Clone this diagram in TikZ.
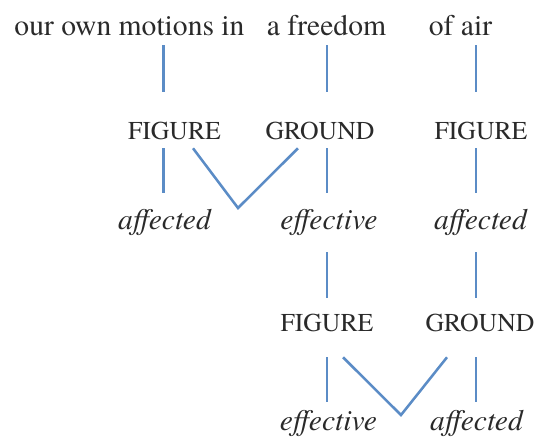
\documentclass[tikz,border=0pt]{standalone}
\usepackage{fontspec}
\setmainfont{texgyretermes}[Extension=.otf, UprightFont=*-regular, ItalicFont=*-italic, BoldFont=*-bold, BoldItalicFont=*-bolditalic]
\definecolor{linkblue}{HTML}{5B8CC6}
\definecolor{ink}{HTML}{2A2A2A}
\tikzset{
  word/.style={inner sep=0pt, anchor=base, text=ink, font=\fontsize{22.2}{26}\selectfont},
  itword/.style={word, font=\fontsize{22.2}{26}\selectfont\itshape},
  role/.style={inner sep=0pt, anchor=base, text=ink, font=\fontsize{19.3}{23}\selectfont},
  link/.style={draw=linkblue, line width=1.9pt}
}
\begin{document}
\begin{tikzpicture}[x=0.75pt, y=-0.75pt]
\useasboundingbox (0,0) rectangle (538,440);
% columns
\coordinate (k1) at (163.5,0);
\coordinate (k2) at (327,0);
\coordinate (k3) at (476,0);
% row 1
\node[word, text height=16pt, text depth=7.5pt] (w1) at (129.5,35) {our own motions in};
\node[word, text height=16pt, text depth=7.5pt] (w2) at (326.5,35) {a freedom};
\node[word, text height=16pt, text depth=7.5pt] (w3) at (460.5,35) {of air};
% row 2
\node[role, text height=35.25pt, text depth=6.75pt] (f1) at (174.5,139) {FIGURE};
\node[role, text height=35.25pt, text depth=6.75pt] (g1) at (320,139) {GROUND};
\node[role, text height=35.25pt, text depth=6.75pt] (f2) at (481,139) {FIGURE};
% row 3
\node[itword, text height=27pt, text depth=17.25pt] (a1) at (164.5,229) {affected};
\node[itword, text height=27pt, text depth=17.25pt] (e1) at (329,229) {effective};
\node[itword, text height=27pt, text depth=17.25pt] (a2) at (480.5,229) {affected};
% row 4
\node[role, text height=24.75pt, text depth=19.5pt] (f3) at (327,331) {FIGURE};
\node[role, text height=24.75pt, text depth=19.5pt] (g2) at (480,331) {GROUND};
% row 5
\node[itword, text height=21pt, text depth=6pt] (e2) at (328.5,430) {effective};
\node[itword, text height=21pt, text depth=6pt] (a3) at (476.5,430) {affected};
% V vertices
\coordinate (v1l) at (193,0);
\coordinate (v1b) at (238,208);
\coordinate (v1r) at (298,0);
\coordinate (v2l) at (343,0);
\coordinate (v2b) at (401,415);
\coordinate (v2r) at (447,0);
% row 1 -> 2
\draw[link] (w1.south -| k1) -- (f1.north -| k1);
\draw[link] (w2.south -| k2) -- (g1.north -| k2);
\draw[link] (w3.south -| k3) -- (f2.north -| k3);
% row 2 -> 3
\draw[link] (f1.south -| k1) -- (a1.north -| k1);
\draw[link] (g1.south -| k2) -- (e1.north -| k2);
\draw[link] (f2.south -| k3) -- (a2.north -| k3);
\draw[link, line join=miter] (f1.south -| v1l) -- (v1b) -- (g1.south -| v1r);
% row 3 -> 4
\draw[link] (e1.south -| k2) -- (f3.north -| k2);
\draw[link] (a2.south -| k3) -- (g2.north -| k3);
% row 4 -> 5
\draw[link] (f3.south -| k2) -- (e2.north -| k2);
\draw[link] (g2.south -| k3) -- (a3.north -| k3);
\draw[link, line join=miter] (f3.south -| v2l) -- (v2b) -- (g2.south -| v2r);
\end{tikzpicture}
\end{document}
